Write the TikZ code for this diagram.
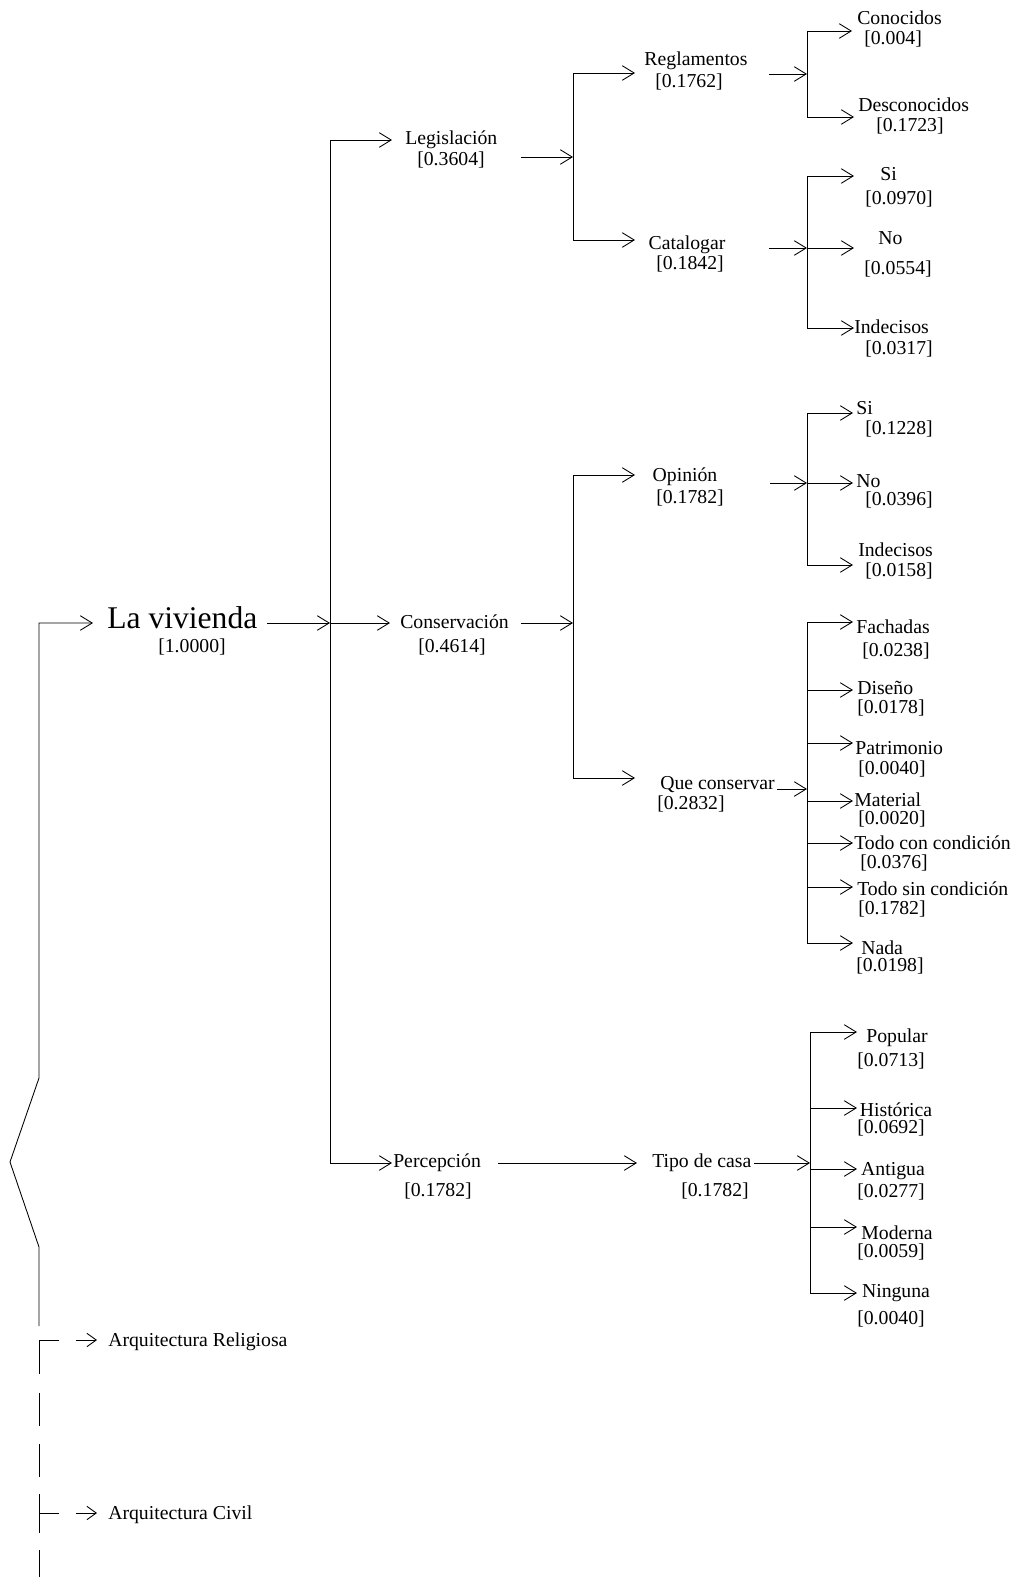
\documentclass[tikz,border=0pt]{standalone}
\usepackage{fontspec}
\setmainfont{Liberation Serif}
\usetikzlibrary{arrows.meta}
\tikzset{
 con/.style={line width=0.65pt},
 arr/.style={-{Straight Barb[length=9pt,width=11pt]}},
 sarr/.style={-{Straight Barb[length=7pt,width=10pt]}},
 lw/.style={anchor=base west, inner sep=0pt, font=\fontsize{14.8}{17}\selectfont},
 lc/.style={anchor=base, inner sep=0pt, font=\fontsize{14.8}{17}\selectfont},
 big/.style={anchor=base west, inner sep=0pt, font=\fontsize{23.7}{28}\selectfont},
}
\newcommand\twig[4]{%
 \coordinate (#1-s) at (#2,#3);
 \coordinate (#1-t) at (#4,#3);
 \draw[con,arr] (#1-s) -- (#1-t);}
\begin{document}
\begin{tikzpicture}[x=0.75pt,y=-0.75pt]
\useasboundingbox (0,0) rectangle (1021,1577);

% ---------- spine on the left ----------
\coordinate (sp0) at (39,623);
\coordinate (sp1) at (39,1078);
\coordinate (sp2) at (10,1162);
\coordinate (sp3) at (39,1247);
\coordinate (sp4) at (39,1326);
\coordinate (vivt) at (93,623);
\draw[con,arr] (sp4) -- (sp3) -- (sp2) -- (sp1) -- (sp0) -- (vivt);
\node[big] (viv) at (107,628) {La vivienda};
\node[lc] (vivv) at (192,652) {[1.0000]};

% Arquitectura Religiosa
\coordinate (rel-j) at (39,1340);
\coordinate (rel-k) at (59,1340);
\draw[con] (rel-k) -- (rel-j) -- (39,1374);
\draw[con,sarr] (76,1340) -- (97,1340);
\node[lw] (rel) at (108,1346) {Arquitectura Religiosa};
\draw[con] (39,1393) -- (39,1426);
\draw[con] (39,1444) -- (39,1477);
% Arquitectura Civil
\coordinate (civ-j) at (39,1513);
\coordinate (civ-k) at (59,1513);
\draw[con] (39,1494) -- (39,1533);
\draw[con] (civ-j) -- (civ-k);
\draw[con,sarr] (76,1513) -- (97,1513);
\node[lw] (civ) at (108,1519) {Arquitectura Civil};
\draw[con] (39,1550) -- (39,1577);

% ---------- level 1 ----------
\coordinate (j1) at (330,623);
\draw[con,arr] (267,623) -- (j1);
\draw[con] (330,140) -- (330,1163);
\twig{leg}{330}{140}{392}
\twig{con}{330}{623}{390}
\twig{per}{330}{1163}{392}
\node[lw] (legl) at (405,144) {Legislación};
\node[lc] (legv) at (451,165) {[0.3604]};
\node[lw] (conl) at (400,628) {Conservación};
\node[lc] (conv) at (452,652) {[0.4614]};
\node[lw] (perl) at (393,1167) {Percepción};
\node[lc] (perv) at (438,1196) {[0.1782]};

% ---------- Legislación subtree ----------
\coordinate (j2) at (573,157);
\draw[con,arr] (521,157) -- (j2);
\draw[con] (573,73) -- (573,240);
\twig{reg}{573}{73}{635}
\twig{cat}{573}{240}{635}
\node[lc] (regl) at (696,65) {Reglamentos};
\node[lc] (regv) at (689,88) {[0.1762]};
\node[lc] (catl) at (687,249) {Catalogar};
\node[lc] (catv) at (690,269) {[0.1842]};

% Reglamentos children
\coordinate (j3) at (807,74);
\draw[con,arr] (769,74) -- (j3);
\draw[con] (807,31) -- (807,117);
\twig{cono}{807}{31}{852}
\twig{desc}{807}{117}{854}
\node[lw] (conol) at (857,25) {Conocidos};
\node[lw] (conov) at (864,45) {[0.004]};
\node[lw] (descl) at (858,112) {Desconocidos};
\node[lw] (descv) at (876,131) {[0.1723]};

% Catalogar children
\coordinate (j4) at (807,248);
\draw[con,arr] (769,248) -- (j4);
\draw[con] (807,176) -- (807,328);
\twig{csi}{807}{176}{854}
\twig{cno}{807}{248}{854}
\twig{cind}{807}{328}{854}
\node[lw] (csil) at (880,180) {Si};
\node[lw] (csiv) at (865,204) {[0.0970]};
\node[lw] (cnol) at (878,244) {No};
\node[lw] (cnov) at (864,274) {[0.0554]};
\node[lw] (cindl) at (854,333) {Indecisos};
\node[lw] (cindv) at (865,354) {[0.0317]};

% ---------- Conservación subtree ----------
\coordinate (j5) at (573,623);
\draw[con,arr] (521,623) -- (j5);
\draw[con] (573,475) -- (573,778);
\twig{opi}{573}{475}{635}
\twig{que}{573}{778}{635}
\node[lc] (opil) at (685,481) {Opinión};
\node[lc] (opiv) at (690,503) {[0.1782]};
\node[lw] (quel) at (660,789) {Que conservar};
\node[lw] (quev) at (657,809) {[0.2832]};

% Opinión children
\coordinate (j6) at (807,483);
\draw[con,arr] (770,483) -- (j6);
\draw[con] (807,413) -- (807,565);
\twig{osi}{807}{413}{853}
\twig{ono}{807}{483}{853}
\twig{oind}{807}{565}{853}
\node[lw] (osil) at (856,414) {Si};
\node[lw] (osiv) at (865,434) {[0.1228]};
\node[lw] (onol) at (856,487) {No};
\node[lw] (onov) at (865,505) {[0.0396]};
\node[lw] (oindl) at (858,556) {Indecisos};
\node[lw] (oindv) at (865,576) {[0.0158]};

% Que conservar children
\coordinate (j7) at (807,789);
\draw[con,arr] (777,789) -- (j7);
\draw[con] (807,622) -- (807,943);
\twig{fac}{807}{622}{853}
\twig{dis}{807}{690}{853}
\twig{pat}{807}{743}{853}
\twig{mat}{807}{801}{853}
\twig{tcc}{807}{843}{853}
\twig{tsc}{807}{887}{853}
\twig{nad}{807}{943}{853}
\node[lw] (facl) at (856,633) {Fachadas};
\node[lw] (facv) at (862,656) {[0.0238]};
\node[lw] (disl) at (857,694) {Diseño};
\node[lw] (disv) at (857,713) {[0.0178]};
\node[lw] (patl) at (855,754) {Patrimonio};
\node[lw] (patv) at (858,774) {[0.0040]};
\node[lw] (matl) at (854,806) {Material};
\node[lw] (matv) at (858,824) {[0.0020]};
\node[lw] (tccl) at (854,849) {Todo con condición};
\node[lw] (tccv) at (860,868) {[0.0376]};
\node[lw] (tscl) at (857,895) {Todo sin condición};
\node[lw] (tscv) at (858,914) {[0.1782]};
\node[lw] (nadl) at (861,954) {Nada};
\node[lw] (nadv) at (856,971) {[0.0198]};

% ---------- Percepción subtree ----------
\coordinate (j8) at (637,1163);
\draw[con,arr] (498,1163) -- (j8);
\node[lw] (tipl) at (652,1167) {Tipo de casa};
\node[lc] (tipv) at (715,1196) {[0.1782]};
\coordinate (j9) at (810,1163);
\draw[con,arr] (tipl.base east) ++(2,-4) -- (j9);
\draw[con] (810,1032) -- (810,1293);
\twig{pop}{810}{1032}{857}
\twig{his}{810}{1108}{857}
\twig{ant}{810}{1169}{857}
\twig{mod}{810}{1227}{857}
\twig{nin}{810}{1293}{857}
\node[lc] (popl) at (897,1042) {Popular};
\node[lc] (popv) at (891,1066) {[0.0713]};
\node[lc] (hisl) at (896,1116) {Histórica};
\node[lc] (hisv) at (891,1133) {[0.0692]};
\node[lc] (antl) at (893,1175) {Antigua};
\node[lc] (antv) at (891,1197) {[0.0277]};
\node[lc] (modl) at (897,1239) {Moderna};
\node[lc] (modv) at (891,1257) {[0.0059]};
\node[lc] (ninl) at (896,1297) {Ninguna};
\node[lc] (ninv) at (891,1324) {[0.0040]};
\end{tikzpicture}
\end{document}
